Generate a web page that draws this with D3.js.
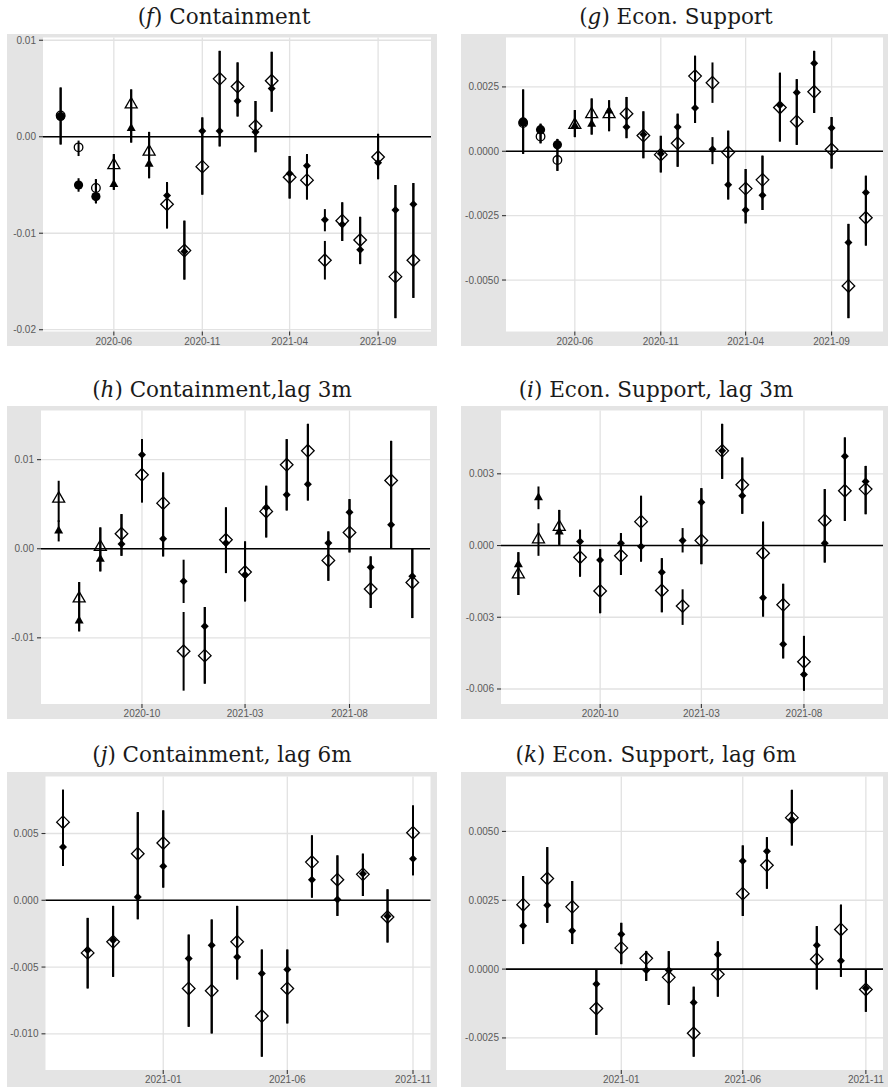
<!DOCTYPE html>
<html><head><meta charset="utf-8">
<script src="https://cdn.jsdelivr.net/npm/d3@7"></script>
<style>body{margin:0;background:#fff} svg{display:block}</style>
</head><body><svg id="c" width="888" height="1087"></svg>
<script>
// ---------- DATA ----------
const monthsFG = ["2020-03","2020-04","2020-05","2020-06","2020-07","2020-08","2020-09","2020-10","2020-11","2020-12","2021-01","2021-02","2021-03","2021-04","2021-05","2021-06","2021-07","2021-08","2021-09","2021-10","2021-11"];
const monthsHI = ["2020-06","2020-07","2020-08","2020-09","2020-10","2020-11","2020-12","2021-01","2021-02","2021-03","2021-04","2021-05","2021-06","2021-07","2021-08","2021-09","2021-10","2021-11"];
const monthsJK = ["2020-09","2020-10","2020-11","2020-12","2021-01","2021-02","2021-03","2021-04","2021-05","2021-06","2021-07","2021-08","2021-09","2021-10","2021-11"];

// (f) Containment
const fOpen   = [0.0022,-0.0011,-0.0053,-0.0029,0.0034,-0.0015,-0.0070,-0.0118,-0.0031,0.0060,0.0052,0.0011,0.0058,-0.0042,-0.0045,-0.0128,-0.0087,-0.0107,-0.0021,-0.0145,-0.0128];
const fOpenLo = [-0.0008,-0.0020,-0.0069,-0.0055,-0.0006,-0.0043,-0.0095,-0.0148,-0.0060,-0.0010,0.0021,-0.0016,0.0026,-0.0064,-0.0065,-0.0148,-0.0108,-0.0132,-0.0044,-0.0188,-0.0167];
const fOpenHi = [0.0051,-0.0004,-0.0044,-0.0018,0.0049,0.0005,-0.0047,-0.0087,0.0020,0.0089,0.0077,0.0037,0.0088,-0.0020,-0.0018,-0.0108,-0.0068,-0.0083,0.0003,-0.0050,-0.0048];
const fFill   = [0.0021,-0.0050,-0.0062,-0.0049,0.0009,-0.0028,-0.0061,-0.0119,0.0006,0.0006,0.0037,0.0005,0.0050,-0.0038,-0.0030,-0.0086,-0.0091,-0.0117,-0.0027,-0.0076,-0.0070];
const fFillLo = [-0.0008,-0.0057,-0.0069,-0.0055,-0.0006,-0.0043,-0.0095,-0.0148,-0.0060,-0.0010,0.0021,-0.0016,0.0026,-0.0064,-0.0065,-0.0098,-0.0108,-0.0132,-0.0044,-0.0188,-0.0167];
const fFillHi = [0.0051,-0.0043,-0.0044,-0.0018,0.0049,0.0005,-0.0047,-0.0087,0.0020,0.0089,0.0077,0.0037,0.0088,-0.0020,-0.0018,-0.0075,-0.0068,-0.0083,0.0003,-0.0050,-0.0048];

// (g) Econ. Support
const gOpen   = [0.00110,0.00057,-0.00034,0.00104,0.00146,0.00146,0.00146,0.00061,-0.00013,0.00031,0.00292,0.00266,-0.00004,-0.00145,-0.00111,0.00170,0.00116,0.00231,0.00007,-0.00523,-0.00258];
const gOpenLo = [-0.00010,0.00031,-0.00076,0.00055,0.00065,0.00078,0.00051,-0.00027,-0.00082,-0.00060,0.00110,0.00188,-0.00187,-0.00280,-0.00228,0.00038,0.00025,0.00149,-0.00067,-0.00648,-0.00366];
const gOpenHi = [0.00240,0.00107,0.00048,0.00160,0.00205,0.00198,0.00211,0.00155,0.00060,0.00146,0.00371,0.00345,0.00080,-0.00069,-0.00017,0.00305,0.00280,0.00390,0.00133,-0.00282,-0.00095];
const gFill   = [0.00114,0.00084,0.00025,0.00100,0.00107,0.00159,0.00094,0.00065,-0.00010,0.00094,0.00168,0.00008,-0.00130,-0.00228,-0.00171,0.00179,0.00228,0.00342,0.00090,-0.00354,-0.00160];
const gFillLo = [-0.00010,0.00031,-0.00076,0.00055,0.00065,0.00078,0.00051,-0.00027,-0.00082,-0.00060,0.00110,-0.00050,-0.00187,-0.00280,-0.00228,0.00038,0.00025,0.00149,-0.00067,-0.00648,-0.00366];
const gFillHi = [0.00240,0.00107,0.00048,0.00160,0.00205,0.00198,0.00211,0.00155,0.00060,0.00146,0.00371,0.00055,0.00080,-0.00069,-0.00017,0.00305,0.00280,0.00390,0.00133,-0.00282,-0.00095];

// (h) Containment, lag 3m
const hOpen   = [0.00568,-0.00553,0.00026,0.00168,0.00830,0.00512,-0.01151,-0.01200,0.00101,-0.00262,0.00419,0.00942,0.01099,-0.00131,0.00183,-0.00452,0.00766,-0.00378];
const hOpenLo = [0.00300,-0.00927,-0.00254,-0.00079,0.00520,-0.00086,-0.01593,-0.01514,-0.00273,-0.00591,0.00127,0.00430,0.00542,-0.00359,-0.00041,-0.00665,0.00000,-0.00778];
const hOpenHi = [0.00763,-0.00374,0.00239,0.00389,0.01230,0.00856,-0.00710,-0.00654,0.00464,0.00082,0.00707,0.01230,0.01402,0.00194,0.00557,-0.00086,0.01211,0.00000];
const hFill   = [0.00206,-0.00804,-0.00112,0.00052,0.01054,0.00112,-0.00366,-0.00871,0.00064,-0.00292,0.00464,0.00606,0.00725,0.00064,0.00411,-0.00209,0.00269,-0.00310];
const hFillLo = [0.00082,-0.00927,-0.00254,-0.00079,0.00520,-0.00086,-0.00609,-0.01514,-0.00273,-0.00591,0.00127,0.00430,0.00542,-0.00359,-0.00041,-0.00665,0.00000,-0.00778];
const hFillHi = [0.00320,-0.00374,0.00239,0.00389,0.01230,0.00856,-0.00123,-0.00654,0.00464,0.00082,0.00707,0.01230,0.01402,0.00194,0.00557,-0.00086,0.01211,0.00000];

// (i) Econ. Support, lag 3m
const iOpen   = [-0.00119,0.00028,0.00080,-0.00049,-0.00190,-0.00043,0.00100,-0.00188,-0.00253,0.00021,0.00396,0.00254,-0.00032,-0.00248,-0.00486,0.00105,0.00229,0.00236];
const iOpenLo = [-0.00207,-0.00043,0.00003,-0.00130,-0.00283,-0.00123,-0.00067,-0.00279,-0.00332,-0.00078,0.00279,0.00133,-0.00297,-0.00472,-0.00607,-0.00071,0.00103,0.00131];
const iOpenHi = [-0.00028,0.00093,0.00149,0.00066,-0.00015,0.00052,0.00208,-0.00053,-0.00183,0.00240,0.00509,0.00368,0.00100,-0.00160,-0.00378,0.00236,0.00452,0.00333];
const iFill   = [-0.00078,0.00202,0.00059,0.00017,-0.00060,0.00010,-0.00004,-0.00112,0.00021,0.00181,0.00396,0.00208,-0.00218,-0.00413,-0.00539,0.00010,0.00373,0.00268];
const iFillLo = [-0.00207,0.00152,0.00003,-0.00130,-0.00283,-0.00123,-0.00067,-0.00279,-0.00029,-0.00078,0.00279,0.00133,-0.00297,-0.00472,-0.00607,-0.00071,0.00103,0.00131];
const iFillHi = [-0.00028,0.00247,0.00149,0.00066,-0.00015,0.00052,0.00208,-0.00053,0.00073,0.00240,0.00509,0.00368,0.00100,-0.00160,-0.00378,0.00236,0.00452,0.00333];

// (j) Containment, lag 6m
const jOpen   = [0.00585,-0.00394,-0.00311,0.00349,0.00429,-0.00660,-0.00678,-0.00311,-0.00867,-0.00660,0.00286,0.00154,0.00194,-0.00125,0.00506];
const jOpenLo = [0.00257,-0.00660,-0.00573,-0.00142,0.00095,-0.00947,-0.00997,-0.00593,-0.01171,-0.00922,0.00020,-0.00117,0.00032,-0.00316,0.00187];
const jOpenHi = [0.00827,-0.00132,-0.00042,0.00660,0.00673,-0.00257,-0.00144,-0.00042,-0.00369,-0.00369,0.00486,0.00336,0.00349,0.00082,0.00710];
const jFill   = [0.00399,-0.00374,-0.00299,0.00025,0.00254,-0.00436,-0.00336,-0.00424,-0.00548,-0.00518,0.00154,0.00005,0.00199,-0.00120,0.00311];
const jFillLo = jOpenLo.slice();
const jFillHi = jOpenHi.slice();

// (k) Econ. Support, lag 6m
const kOpen   = [0.00234,0.00329,0.00226,-0.00143,0.00077,0.00039,-0.00030,-0.00233,-0.00019,0.00274,0.00377,0.00550,0.00036,0.00144,-0.00074];
const kOpenLo = [0.00091,0.00168,0.00091,-0.00239,0.00018,-0.00043,-0.00130,-0.00318,-0.00100,0.00193,0.00292,0.00449,-0.00074,-0.00028,-0.00155];
const kOpenHi = [0.00338,0.00443,0.00320,0.00000,0.00168,0.00066,0.00065,-0.00064,0.00101,0.00449,0.00479,0.00651,0.00156,0.00234,0.00000];
const kFill   = [0.00157,0.00232,0.00139,-0.00054,0.00127,-0.00004,-0.00004,-0.00121,0.00053,0.00393,0.00428,0.00543,0.00087,0.00030,-0.00070];
const kFillLo = kOpenLo.slice();
const kFillHi = kOpenHi.slice();

// tick labels
const xTicksFG = ["2020-06","2020-11","2021-04","2021-09"];
const xTicksHI = ["2020-10","2021-03","2021-08"];
const xTicksJK = ["2021-01","2021-06","2021-11"];
const yTicksF = [0.01,0,-0.01,-0.02];
const yTicksG = [0.0025,0,-0.0025,-0.005];
const yTicksH = [0.01,0,-0.01];
const yTicksI = [0.003,0,-0.003,-0.006];
const yTicksJ = [0.005,0,-0.005,-0.01];
const yTicksK = [0.005,0.0025,0,-0.0025];

// ---------- LAYOUT ----------
const panels = [
 {letter:"f", rest:" Containment", months:monthsFG, o:[fOpen,fOpenLo,fOpenHi], f:[fFill,fFillLo,fFillHi], xt:xTicksFG, yt:yTicksF, yf:".2f",
  box:[7,34,437,346], plot:[43,37.5,431,331.5], tx:224, ty:24},
 {letter:"g", rest:" Econ. Support", months:monthsFG, o:[gOpen,gOpenLo,gOpenHi], f:[gFill,gFillLo,gFillHi], xt:xTicksFG, yt:yTicksG, yf:".4f",
  box:[461,34,888,346], plot:[506,37.5,883,331.5], tx:676, ty:24},
 {letter:"h", rest:" Containment,lag 3m", months:monthsHI, o:[hOpen,hOpenLo,hOpenHi], f:[hFill,hFillLo,hFillHi], xt:xTicksHI, yt:yTicksH, yf:".2f",
  box:[7,406,437,719], plot:[41,410.5,430,704], tx:222, ty:397},
 {letter:"i", rest:" Econ. Support, lag 3m", months:monthsHI, o:[iOpen,iOpenLo,iOpenHi], f:[iFill,iFillLo,iFillHi], xt:xTicksHI, yt:yTicksI, yf:".3f",
  box:[461,406,888,719], plot:[501,410.5,883,704], tx:656, ty:397},
 {letter:"j", rest:" Containment, lag 6m", months:monthsJK, o:[jOpen,jOpenLo,jOpenHi], f:[jFill,jFillLo,jFillHi], xt:xTicksJK, yt:yTicksJ, yf:".3f",
  box:[7,772,437,1087], plot:[45.5,776.5,430.5,1070], tx:222, ty:762},
 {letter:"k", rest:" Econ. Support, lag 6m", months:monthsJK, o:[kOpen,kOpenLo,kOpenHi], f:[kFill,kFillLo,kFillHi], xt:xTicksJK, yt:yTicksK, yf:".4f",
  box:[461,772,888,1087], plot:[506,776.5,883,1070], tx:656, ty:762}
];

const parse = d3.timeParse("%Y-%m");
const svg = d3.select("#c");
const GREY_BG = "#e4e4e4", GRID = "#e2e2e2", TXT = "#5a5a5a";

function shapeOf(m){ return m < "2020-06" ? "circle" : (m < "2020-09" ? "triangle" : "diamond"); }
function markerPath(shape, open){
  if (shape === "diamond"){ const s = open ? 6.3 : 4; return `M0,${-s}L${s},0L0,${s}L${-s},0Z`; }
  if (shape === "triangle"){ const w = open ? 12 : 9, h = open ? 10.4 : 8; return `M0,${-h*0.62}L${w/2},${h*0.38}L${-w/2},${h*0.38}Z`; }
  const r = open ? 4.3 : 4.6; return `M${r},0A${r},${r},0,1,1,${-r},0A${r},${r},0,1,1,${r},0Z`;
}

panels.forEach(p => {
  const g = svg.append("g");
  const [bx0,by0,bx1,by1] = p.box, [px0,py0,px1,py1] = p.plot;
  g.append("rect").attr("x",bx0).attr("y",by0).attr("width",bx1-bx0).attr("height",by1-by0).attr("fill",GREY_BG);
  g.append("rect").attr("x",px0).attr("y",py0).attr("width",px1-px0).attr("height",py1-py0).attr("fill","#fff");

  const dates = p.months.map(parse);
  const [d0,d1] = d3.extent(dates);
  const padT = (d1 - d0) * 0.05;
  const x = d3.scaleTime().domain([new Date(+d0 - padT), new Date(+d1 + padT)]).range([px0,px1]);
  const lo = d3.min([...p.o[1], ...p.f[1]]), hi = d3.max([...p.o[2], ...p.f[2]]);
  const padV = (hi - lo) * 0.05;
  const y = d3.scaleLinear().domain([lo - padV, hi + padV]).range([py1,py0]);

  const xtDates = p.xt.map(parse);
  // gridlines
  g.selectAll(".gx").data(xtDates).join("line").attr("x1",d=>x(d)).attr("x2",d=>x(d)).attr("y1",py0).attr("y2",py1)
    .attr("stroke",GRID).attr("stroke-width",1.3);
  g.selectAll(".gy").data(p.yt).join("line").attr("y1",d=>y(d)).attr("y2",d=>y(d)).attr("x1",px0).attr("x2",px1)
    .attr("stroke",GRID).attr("stroke-width",1.3);
  // zero line
  g.append("line").attr("x1",px0).attr("x2",px1).attr("y1",y(0)).attr("y2",y(0)).attr("stroke","#000").attr("stroke-width",1.6);

  // error bars
  [p.o, p.f].forEach(s => {
    g.selectAll(null).data(dates).join("line")
      .attr("x1",d=>x(d)).attr("x2",d=>x(d))
      .attr("y1",(d,i)=>y(s[1][i])).attr("y2",(d,i)=>y(s[2][i]))
      .attr("stroke","#000").attr("stroke-width",2);
  });
  // open markers
  g.selectAll(null).data(dates).join("path")
    .attr("transform",(d,i)=>`translate(${x(d)},${y(p.o[0][i])})`)
    .attr("d",(d,i)=>markerPath(shapeOf(p.months[i]),true))
    .attr("fill","none").attr("stroke","#000").attr("stroke-width",1.3);
  // filled markers
  g.selectAll(null).data(dates).join("path")
    .attr("transform",(d,i)=>`translate(${x(d)},${y(p.f[0][i])})`)
    .attr("d",(d,i)=>markerPath(shapeOf(p.months[i]),false))
    .attr("fill","#000");

  // axes ticks + labels
  const fmt = d3.format(p.yf);
  g.selectAll(".ty").data(p.yt).join("line").attr("x1",px0-4).attr("x2",px0).attr("y1",d=>y(d)).attr("y2",d=>y(d))
    .attr("stroke","#333").attr("stroke-width",1.1);
  g.selectAll(".tyl").data(p.yt).join("text").attr("x",px0-7).attr("y",d=>y(d)).attr("dy","0.35em")
    .attr("text-anchor","end").attr("font-family","Liberation Sans, Arial, sans-serif").attr("font-size",10).attr("fill",TXT)
    .text(d=>fmt(d).replace("\u2212","-"));
  g.selectAll(".tx").data(xtDates).join("line").attr("x1",d=>x(d)).attr("x2",d=>x(d)).attr("y1",py1).attr("y2",py1+4)
    .attr("stroke","#333").attr("stroke-width",1.1);
  const xf = d3.timeFormat("%Y-%m");
  g.selectAll(".txl").data(xtDates).join("text").attr("x",d=>x(d)).attr("y",py1+13)
    .attr("text-anchor","middle").attr("font-family","Liberation Sans, Arial, sans-serif").attr("font-size",10).attr("fill",TXT)
    .text(d=>xf(d));

  // title
  const t = svg.append("text").attr("x",p.tx).attr("y",p.ty).attr("text-anchor","middle")
    .attr("font-family","DejaVu Serif, serif").attr("font-size",21.5).attr("fill","#1a1a1a");
  t.append("tspan").text("(");
  t.append("tspan").attr("font-style","italic").text(p.letter);
  t.append("tspan").text(")" + p.rest);
});
</script></body></html>
